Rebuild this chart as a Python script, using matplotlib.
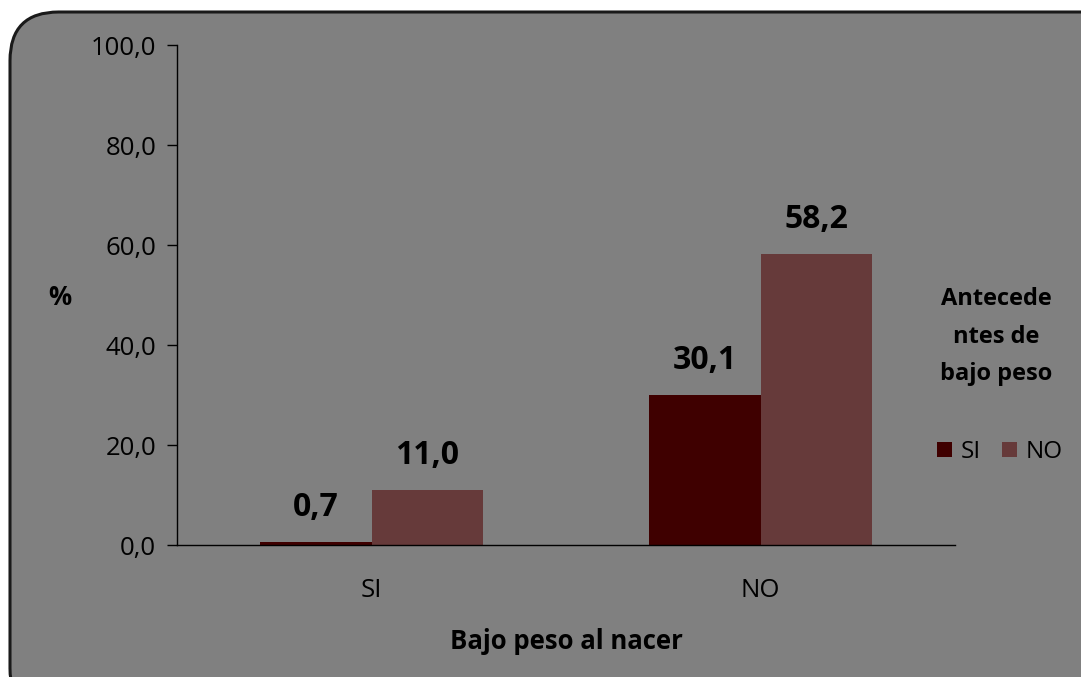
import matplotlib.pyplot as plt
from matplotlib.patches import FancyBboxPatch
import numpy as np

categories = ["SI", "NO"]
series_names = ["SI", "NO"]
values_si = [0.7, 30.1]
values_no = [11.0, 58.2]
yticks = [0, 20, 40, 60, 80, 100]

colors = ["#3f0000", "#663a3a"]
bg = "#808080"

plt.rcParams['font.family'] = ['Open Sans', 'DejaVu Sans']

W, H = 1081, 677
fig = plt.figure(figsize=(W / 100, H / 100), dpi=100)
fig.patch.set_facecolor("white")

# rounded gray frame, running off the right and bottom edges
frame = FancyBboxPatch((10 / W, -40 / H), 1200 / W, (H - 12 + 40) / H,
                       boxstyle="round,pad=0,rounding_size=0.045",
                       transform=fig.transFigure, facecolor=bg,
                       edgecolor="#1a1a1a", linewidth=2.2,
                       mutation_aspect=W / H, zorder=-10)
fig.patches.append(frame)

ax = fig.add_axes([177 / W, 1 - 545 / H, (955 - 177) / W, (545 - 45) / H])
ax.set_facecolor("none")
ax.set_zorder(1)

x = np.arange(len(categories))
w = 0.286
b1 = ax.bar(x - w / 2, values_si, w, color=colors[0], label=series_names[0])
b2 = ax.bar(x + w / 2, values_no, w, color=colors[1], label=series_names[1])

for bars, vals in ((b1, values_si), (b2, values_no)):
    for rect, v in zip(bars, vals):
        ax.text(rect.get_x() + rect.get_width() / 2, v + 3.5,
                f"{v:.1f}".replace(".", ","), ha="center", va="bottom",
                fontsize=23, fontweight="bold")

ax.set_xlim(-0.5, 1.5)
ax.set_ylim(0, 100)
ax.set_yticks(yticks)
ax.set_yticklabels([f"{t:.1f}".replace(".", ",") for t in yticks], fontsize=18.5)
ax.set_xticks(x)
ax.set_xticklabels(categories, fontsize=18.5)
ax.tick_params(axis="x", length=0, pad=24)
ax.tick_params(axis="y", length=7, width=1, pad=8, direction="out")
for s in ("top", "right"):
    ax.spines[s].set_visible(False)
ax.spines["left"].set_linewidth(1.0)
ax.spines["bottom"].set_linewidth(1.0)

ax.set_xlabel("Bajo peso al nacer", fontsize=18.5, fontweight="bold", labelpad=18)
fig.text(60 / W, 1 - 298 / H, "%", fontsize=18.5, fontweight="bold",
         ha="center", va="center")

# legend title, wrapped narrow at the right edge
fig.text(996 / W, 1 - 337 / H, "Antecede\nntes de\nbajo peso",
         fontsize=17, fontweight="bold", ha="center", va="center",
         multialignment="center", linespacing=1.75)
ax.legend(loc="center", bbox_to_anchor=(1000 / W, 1 - 452 / H),
          bbox_transform=fig.transFigure, frameon=False, ncol=2,
          fontsize=17.5, handlelength=0.6, handleheight=0.6,
          handletextpad=0.35, columnspacing=0.9, borderpad=0)

fig.savefig("out.png", dpi=100, facecolor="white")
